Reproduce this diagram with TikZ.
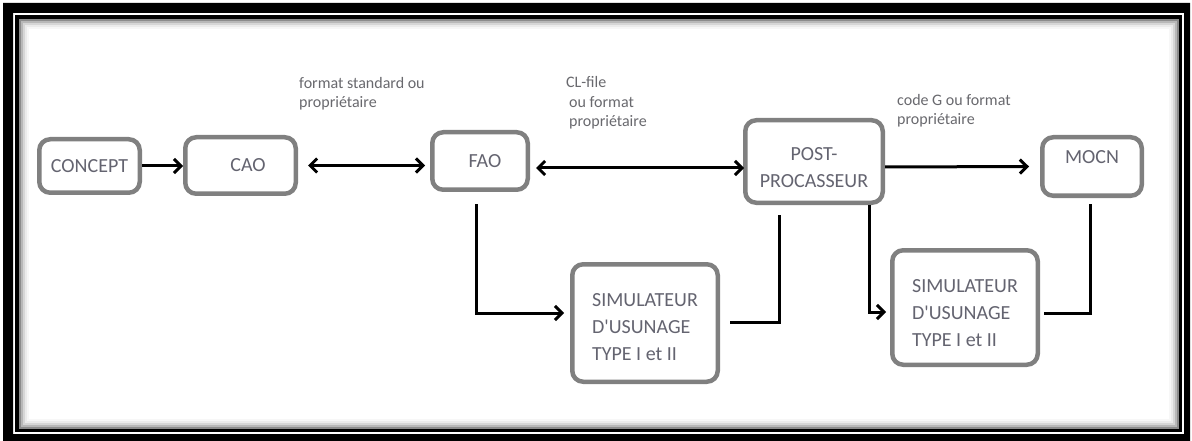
\documentclass[tikz,border=0pt]{standalone}
\usepackage{fontspec}
\setmainfont{Carlito}[Ligatures=TeXOff]
\usetikzlibrary{arrows.meta,calc}
\definecolor{boxgray}{RGB}{128,128,128}
\definecolor{txtgray}{RGB}{100,100,112}
\definecolor{lblgray}{RGB}{105,105,110}
\begin{document}
\begin{tikzpicture}[x=1pt,y=-1pt,
  box/.style={draw=boxgray, line width=4.5pt, rounded corners=11pt, fill=white,
    text=txtgray, font=\fontsize{20}{27}\selectfont, inner sep=0pt},
  lbl/.style={text=lblgray, font=\fontsize{16}{19.5}\selectfont, align=left,
    inner sep=0pt, anchor=base west},
  conn/.style={line width=3pt, draw=black},
  tip/.style={-{Straight Barb[length=7pt,width=14pt]}},
  bitip/.style={{Straight Barb[length=7pt,width=14pt]}-{Straight Barb[length=7pt,width=14pt]}}
]
\useasboundingbox (0,0) rectangle (1192,441);
\fill[white] (0,0) rectangle (1192,441);
% frame
\fill[black, even odd rule] (3,3) rectangle (1190,441) (13,13) rectangle (1184,434);
\draw[line width=3.5pt] (17,17) rectangle (1180.5,430.5);
\foreach \d/\c in {3/45,5/28,7/16,9/8,11/3}
  \draw[black!\c, line width=2pt] (17+\d,17+\d) rectangle (1180.5-\d,430.5-\d);

% boxes
\node[box, minimum width=100.5pt, minimum height=53.5pt] (concept) at (89.5,166) {CONCEPT};
\node[box, minimum width=110.5pt, minimum height=56.5pt] (cao) at (240.5,165.5) {\hspace*{15pt}CAO};
\node[box, minimum width=95.5pt, minimum height=57.5pt] (fao) at (480,161) {\hspace*{10pt}FAO};
\node[box, align=center, minimum width=137.5pt, minimum height=82.5pt] (post) at (814,161.5)
  {\rule{0pt}{25.5pt}POST-\\PROCASSEUR};
\node[box, minimum width=99.5pt, minimum height=58.5pt] (mocn) at (1092,166.5)
  {MOCN\rule[-19pt]{0pt}{19pt}};
\node[box, align=left, minimum width=145.5pt, minimum height=117.5pt] (sim1) at (645,323)
  {\rule{0pt}{20.6pt}SIMULATEUR\\D'USUNAGE\\TYPE I et II};
\node[box, align=left, minimum width=145.5pt, minimum height=114.5pt] (sim2) at (965,307.5)
  {\rule{0pt}{23.6pt}SIMULATEUR\\D'USUNAGE\\TYPE I et II};

% labels (anchor = baseline of last line)
\node[lbl] (l1) at (299,108) {format standard ou\\propriétaire};
\node[lbl] (l2) at (566,127) {CL-file\\\hspace*{3pt}ou format\\\hspace*{3pt}propriétaire};
\node[lbl] (l3) at (897,125) {code G ou format\\propriétaire};

% connectors
\draw[conn, tip] (concept.east) -- (concept.east -| cao.west);
\draw[conn, bitip] ($(cao.east)+(10,0)$) -- ($(cao.east -| fao.west)+(-5,0)$);
\draw[conn, bitip] ($(fao.east)+(6,7)$) -- ($(post.west)+(1,6.5)$);
\draw[conn, tip] ($(post.east)+(0,5.5)$) -- ($(mocn.west)+(-11,0)$);
\draw[conn, tip] ($(fao.south)+(-4,12)$) |- ($(sim1.west)+(-6,-10)$);
\draw[conn] ($(sim1.east)+(10,-1)$) -| ($(post.south)+(-35,10)$);
\draw[conn, tip] ($(post.south)+(55,0)$) |- ($(sim2.west)+(-4,4.5)$);
\draw[conn] ($(sim2.east)+(4,5.5)$) -| ($(mocn.south)+(-2,6)$);
\end{tikzpicture}
\end{document}
